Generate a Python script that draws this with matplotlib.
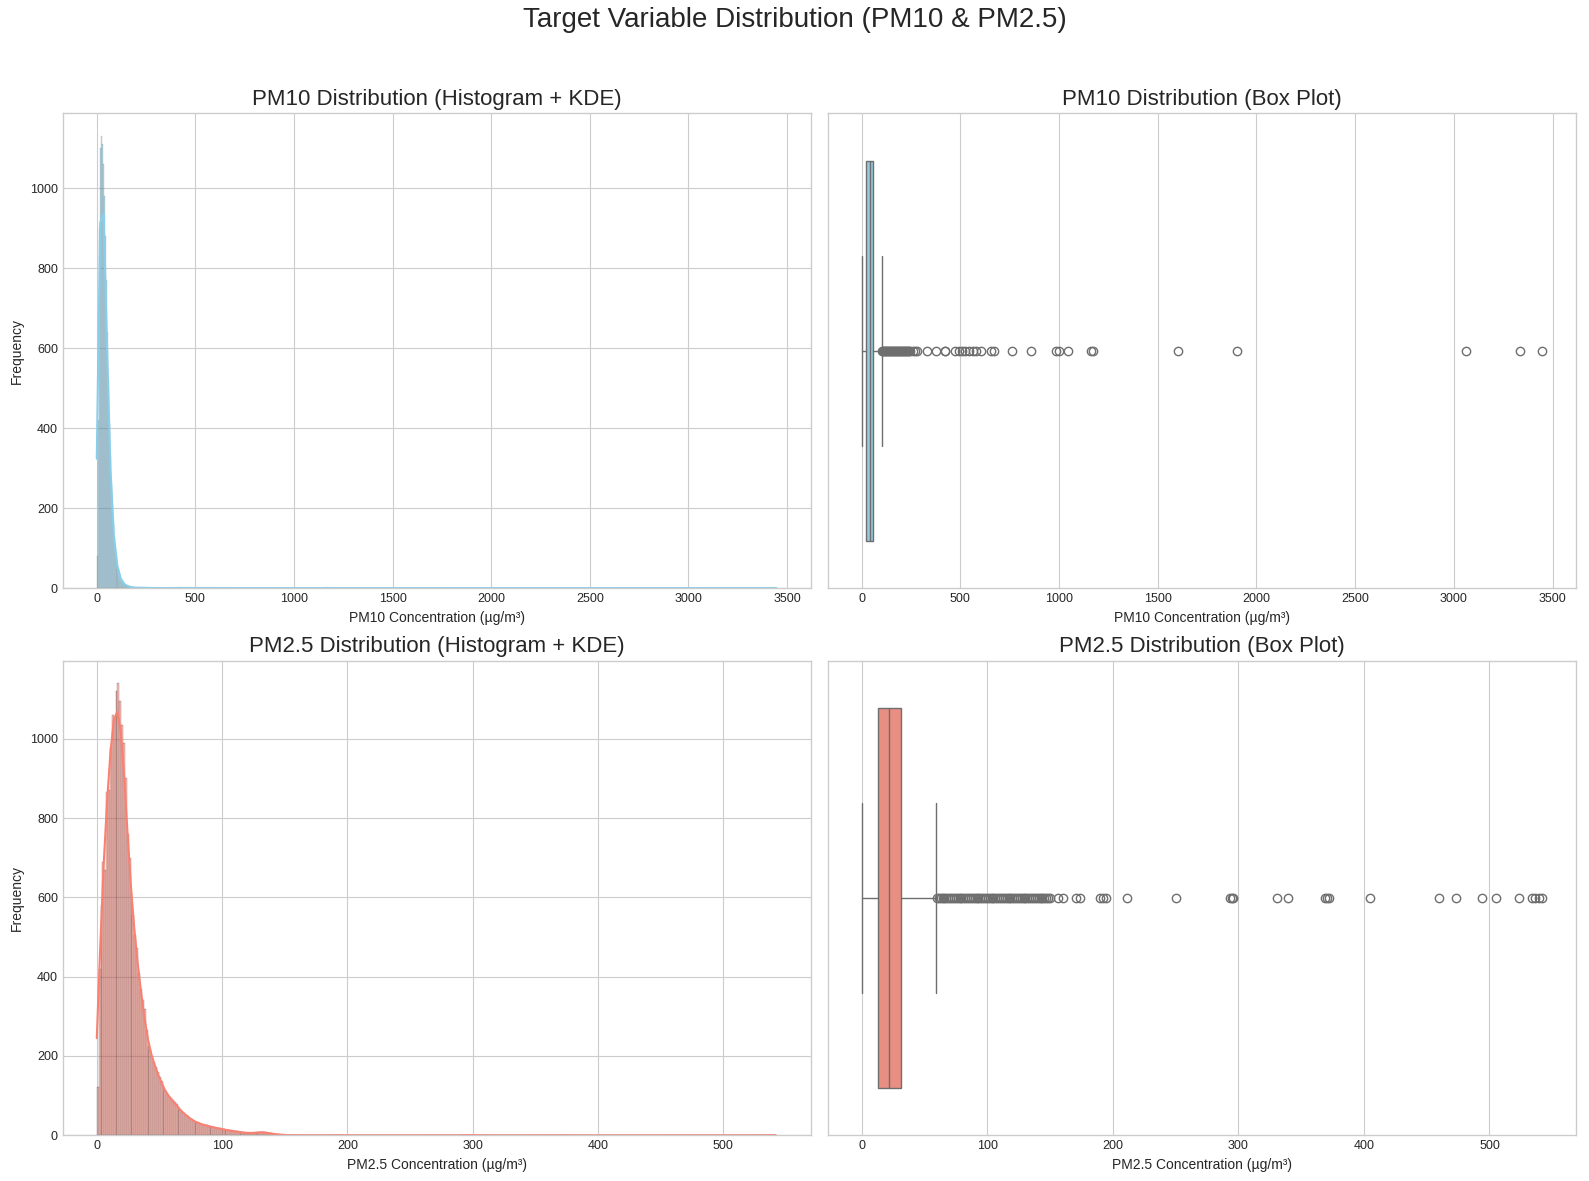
import numpy as np
import matplotlib
matplotlib.use('Agg')
import matplotlib.pyplot as plt
import seaborn as sns

# bar heights, one value per bin (first bin starts at 0)
PM10_BIN = 5.0
PM10_COUNTS = [80, 420, 900, 1100, 1130, 1110, 1060, 980, 880, 770,
               640, 520, 410, 330, 260, 205, 160, 125, 98, 76,
               60, 47, 37, 29, 23, 18, 14, 11, 9, 7,
               6, 5, 4, 3, 3, 2, 2, 2, 1, 1,
               1, 1, 1, 1, 1, 1, 1, 1, 1, 1]
# sparse outliers seen on the PM10 box plot
PM10_FAR = [258, 268, 280, 333, 379, 421, 424, 472, 492, 509, 525, 542, 564,
            581, 603, 657, 670, 761, 859, 985, 1002, 1044, 1162, 1170, 1600,
            1899, 3060, 3337, 3446]
PM10_BOX = dict(q1=24, med=40, q3=57.5, whislo=0, whishi=101)

PM25_BIN = 1.5
PM25_COUNTS = [122, 420, 580, 690, 670, 865, 870, 980, 1060, 1055,
               1120, 1140, 1095, 1035, 990, 900, 760, 700, 610, 555,
               505, 472, 410, 370, 340, 318, 265, 226, 215, 200,
               185, 172, 160, 148, 137, 124, 112, 104, 100, 93,
               89, 84, 80, 72, 64, 60, 57, 52, 48, 44,
               42, 36, 34, 33, 31, 29, 27, 26, 25, 24,
               22, 21, 20, 19, 18, 18, 16, 15, 14, 13,
               13, 12, 11, 10, 10, 9, 8, 8, 7, 6,
               6, 5, 5, 6, 6, 7, 8, 8, 9, 8,
               7, 6, 5, 4, 3, 3, 2, 2, 2, 1, 1]
# sparse outliers seen on the PM2.5 box plot
PM25_FAR = [156, 160, 170.6, 174, 190, 192, 194.4, 211.7, 250, 293, 295, 296,
            330.7, 339.4, 369, 370.4, 372.5, 405, 459.8, 473.6, 494, 505.3,
            523.8, 533.9, 536.5, 539.2, 541.8]
PM25_BOX = dict(q1=13.3, med=21.7, q3=31.7, whislo=0, whishi=59.5)


def rebuild(width, counts, far):
    # one value per counted item, placed at the left edge of its bin
    lefts = np.arange(len(counts)) * width
    return np.concatenate([np.repeat(lefts, counts), np.array(far, float)])


plt.style.use('seaborn-v0_8-whitegrid')
plt.rcParams['font.family'] = ['Liberation Sans', 'DejaVu Sans']
plt.rcParams['xtick.labelsize'] = 9
plt.rcParams['ytick.labelsize'] = 9

fig, axes = plt.subplots(2, 2, figsize=(15.89, 11.81), dpi=100)
fig.subplots_adjust(left=0.0395, right=0.9918, top=0.9039, bottom=0.0387,
                    wspace=0.022, hspace=0.153)
fig.suptitle('Target Variable Distribution (PM10 & PM2.5)', fontsize=20, y=0.983, va='center')

line_gray = '#6e6e6e'
panels = [
    ('PM10', PM10_BIN, PM10_COUNTS, PM10_FAR, PM10_BOX, 'skyblue'),
    ('PM2.5', PM25_BIN, PM25_COUNTS, PM25_FAR, PM25_BOX, 'salmon'),
]

for row, (name, width, counts, far, box, color) in enumerate(panels):
    data = rebuild(width, counts, far)
    edges = np.arange(0, data.max() + width, width)

    # histogram + kde
    ax = axes[row, 0]
    sns.histplot(x=data, bins=edges, kde=True, color=color, edgecolor='black', ax=ax)
    ax.set_title(f'{name} Distribution (Histogram + KDE)', fontsize=16)
    ax.set_xlabel(f'{name} Concentration (µg/m³)', fontsize=10)
    ax.set_ylabel('Frequency', fontsize=10)

    # box plot
    ax = axes[row, 1]
    fliers = np.unique(data[data > box['whishi']])
    stats = [dict(box, fliers=fliers)]
    ax.bxp(stats, positions=[0], widths=0.8, capwidths=0.4, orientation='horizontal',
           patch_artist=True,
           boxprops=dict(facecolor=sns.desaturate(color, 0.75), edgecolor=line_gray, linewidth=1),
           whiskerprops=dict(color=line_gray, linewidth=1),
           capprops=dict(color=line_gray, linewidth=1),
           medianprops=dict(color=line_gray, linewidth=1),
           flierprops=dict(marker='o', markerfacecolor='none', markeredgecolor=line_gray,
                           markersize=6, markeredgewidth=1))
    ax.set_ylim(0.5, -0.5)
    ax.set_yticks([])
    ax.yaxis.grid(False)
    ax.set_title(f'{name} Distribution (Box Plot)', fontsize=16)
    ax.set_xlabel(f'{name} Concentration (µg/m³)', fontsize=10)

fig.savefig('out.png', dpi=100)
